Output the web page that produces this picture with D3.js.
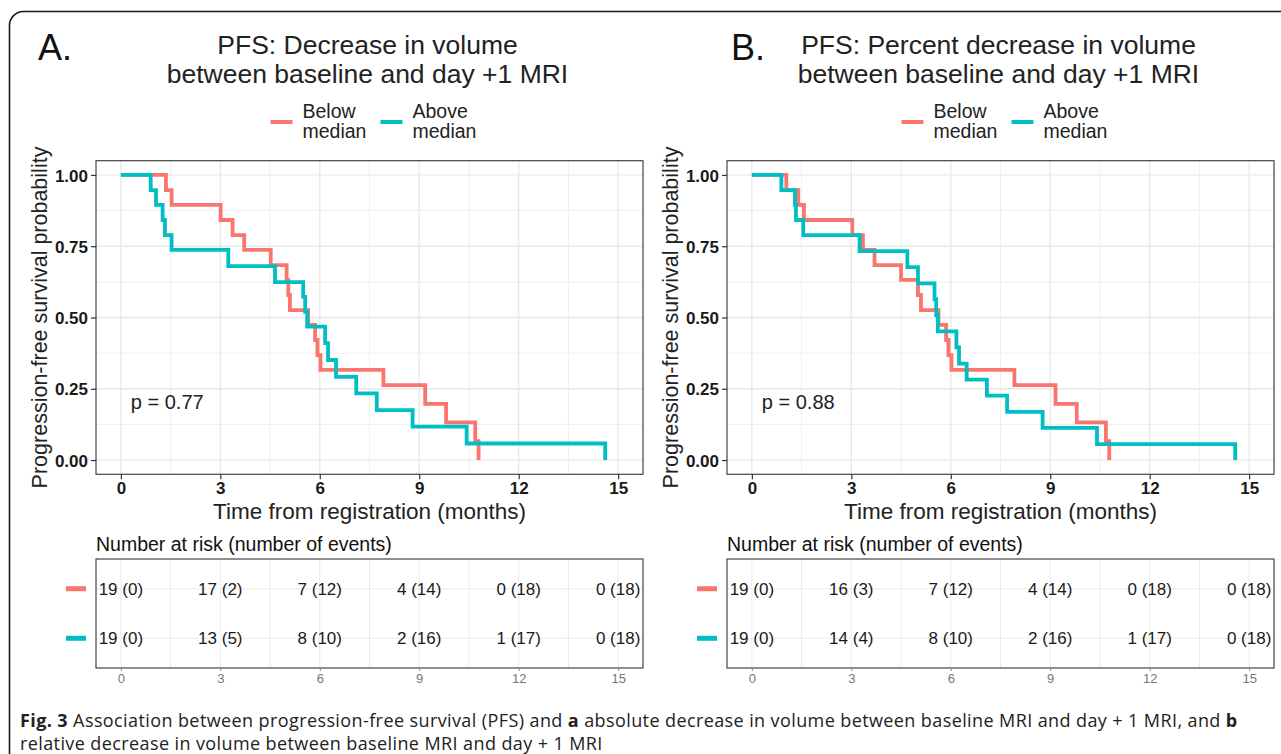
<!DOCTYPE html>
<html>
<head>
<meta charset="utf-8">
<script src="https://cdn.jsdelivr.net/npm/d3@7/dist/d3.min.js"></script>
<style>
  body { margin: 0; background: #fff; }
  svg { display: block; }
</style>
</head>
<body>
<script>
// ---- data ----
const groups = ["Below median", "Above median"];
const legendLines = [["Below", "median"], ["Above", "median"]];
const xTicks = [0, 3, 6, 9, 12, 15];
const yTicks = [0, 0.25, 0.5, 0.75, 1];

// panel A: absolute decrease
const timeA_below = [0, 1.36, 1.53, 3.01, 3.37, 3.72, 4.52, 5.0, 5.05, 5.1, 5.65, 5.86, 5.93, 6.02, 7.92, 9.18, 9.81, 10.69, 10.79];
const survA_below = [1, 0.947, 0.895, 0.842, 0.789, 0.737, 0.684, 0.632, 0.579, 0.526, 0.474, 0.421, 0.368, 0.316, 0.263, 0.197, 0.132, 0.066, 0];
const timeA_above = [0, 0.9, 1.06, 1.26, 1.33, 1.53, 3.24, 4.65, 5.5, 5.56, 5.62, 6.16, 6.25, 6.49, 7.1, 7.72, 8.8, 10.43, 14.61];
const survA_above = [1, 0.947, 0.895, 0.842, 0.789, 0.737, 0.68, 0.624, 0.572, 0.52, 0.468, 0.41, 0.351, 0.292, 0.234, 0.175, 0.117, 0.058, 0];
const riskA_below = ["19 (0)", "17 (2)", "7 (12)", "4 (14)", "0 (18)", "0 (18)"];
const riskA_above = ["19 (0)", "13 (5)", "8 (10)", "2 (16)", "1 (17)", "0 (18)"];

// panel B: percent decrease
const timeB_below = [0, 1.04, 1.4, 1.57, 3.03, 3.35, 3.7, 4.5, 5.01, 5.1, 5.63, 5.86, 5.93, 6.02, 7.92, 9.16, 9.8, 10.68, 10.78];
const survB_below = [1, 0.947, 0.895, 0.842, 0.789, 0.737, 0.684, 0.632, 0.579, 0.526, 0.474, 0.421, 0.368, 0.316, 0.263, 0.197, 0.132, 0.066, 0];
const timeB_above = [0, 0.89, 1.3, 1.33, 1.55, 3.25, 4.69, 5.01, 5.51, 5.56, 5.61, 6.17, 6.25, 6.48, 7.09, 7.7, 8.77, 10.41, 14.58];
const survB_above = [1, 0.947, 0.895, 0.842, 0.789, 0.733, 0.677, 0.62, 0.564, 0.508, 0.451, 0.395, 0.338, 0.282, 0.226, 0.169, 0.113, 0.056, 0];
const riskB_below = ["19 (0)", "16 (3)", "7 (12)", "4 (14)", "0 (18)", "0 (18)"];
const riskB_above = ["19 (0)", "14 (4)", "8 (10)", "2 (16)", "1 (17)", "0 (18)"];

const letters = ["A.", "B."];
const titlesA = ["PFS: Decrease in volume", "between baseline and day +1 MRI"];
const titlesB = ["PFS: Percent decrease in volume", "between baseline and day +1 MRI"];
const pValues = ["p = 0.77", "p = 0.88"];

const colors = ["#F8766D", "#00BFC4"];
const font = "'Liberation Sans', Arial, sans-serif";

const svg = d3.select("body").append("svg")
    .attr("width", 1281)
    .attr("height", 754);

// outer frame of the figure
svg.append("rect")
    .attr("x", 9.5).attr("y", 11.5)
    .attr("width", 1400).attr("height", 900)
    .attr("rx", 14)
    .attr("fill", "none")
    .attr("stroke", "#1a1a1a")
    .attr("stroke-width", 1.6);

const zip = (t, s) => t.map((d, i) => [d, s[i]]);

const panels = [
    { left: 96, letterX: 38, letter: letters[0], title: titlesA, p: pValues[0],
      curves: [zip(timeA_below, survA_below), zip(timeA_above, survA_above)],
      risk: [riskA_below, riskA_above] },
    { left: 727, letterX: 731, letter: letters[1], title: titlesB, p: pValues[1],
      curves: [zip(timeB_below, survB_below), zip(timeB_above, survB_above)],
      risk: [riskB_below, riskB_above] }
];

panels.forEach(drawPanel);

function drawPanel(p) {
    const pw = 547;
    const x = d3.scaleLinear().domain([-0.75, 15.75]).range([p.left, p.left + pw]);
    const y = d3.scaleLinear().domain([-0.05, 1.05]).range([474.3, 160.7]);
    const cx = p.left + pw / 2;
    const g = svg.append("g").style("font-family", font);

    // letter + title
    g.append("text").attr("x", p.letterX).attr("y", 60)
        .style("font-size", "36px").style("fill", "#111").text(p.letter);
    g.selectAll(".title").data(p.title).enter().append("text")
        .attr("x", cx - 2).attr("y", (d, i) => 54 + i * 29)
        .attr("text-anchor", "middle")
        .style("font-size", "26.5px").style("fill", "#222")
        .text(d => d);

    // legend
    const leg = g.append("g").attr("transform", "translate(" + (cx - 99) + ",0)");
    legendLines.forEach((lines, i) => {
        const lx = i * 110;
        leg.append("line").attr("x1", lx).attr("x2", lx + 22)
            .attr("y1", 122).attr("y2", 122)
            .attr("stroke", colors[i]).attr("stroke-width", 4);
        leg.selectAll(".l" + i).data(lines).enter().append("text")
            .attr("x", lx + 32).attr("y", (d, j) => 118 + j * 20)
            .style("font-size", "19.5px").style("fill", "#222")
            .text(d => d);
    });

    // grid
    const minorX = d3.range(1.5, 15, 3);
    const minorY = d3.range(0.125, 1, 0.25);
    g.selectAll(".gmx").data(minorX).enter().append("line")
        .attr("x1", d => x(d)).attr("x2", d => x(d))
        .attr("y1", y.range()[0]).attr("y2", y.range()[1])
        .attr("stroke", "#EFEFEF").attr("stroke-width", 1);
    g.selectAll(".gmy").data(minorY).enter().append("line")
        .attr("x1", x.range()[0]).attr("x2", x.range()[1])
        .attr("y1", d => y(d)).attr("y2", d => y(d))
        .attr("stroke", "#EFEFEF").attr("stroke-width", 1);
    g.selectAll(".gx").data(xTicks).enter().append("line")
        .attr("x1", d => x(d)).attr("x2", d => x(d))
        .attr("y1", y.range()[0]).attr("y2", y.range()[1])
        .attr("stroke", "#E8E8E8").attr("stroke-width", 1.3);
    g.selectAll(".gy").data(yTicks).enter().append("line")
        .attr("x1", x.range()[0]).attr("x2", x.range()[1])
        .attr("y1", d => y(d)).attr("y2", d => y(d))
        .attr("stroke", "#E8E8E8").attr("stroke-width", 1.3);

    // survival curves
    const line = d3.line().curve(d3.curveStepAfter)
        .x(d => x(d[0])).y(d => y(d[1]));
    p.curves.forEach((c, i) => {
        g.append("path").attr("d", line(c))
            .attr("fill", "none")
            .attr("stroke", colors[i])
            .attr("stroke-width", 3.8)
            .attr("stroke-linejoin", "miter");
    });

    // panel border
    g.append("rect")
        .attr("x", x.range()[0]).attr("y", y.range()[1])
        .attr("width", pw).attr("height", y.range()[0] - y.range()[1])
        .attr("fill", "none").attr("stroke", "#444").attr("stroke-width", 1.2);

    // axes
    const ax = g.append("g").attr("transform", "translate(0," + y.range()[0] + ")")
        .call(d3.axisBottom(x).tickValues(xTicks).tickSize(5).tickPadding(3));
    const ay = g.append("g").attr("transform", "translate(" + x.range()[0] + ",0)")
        .call(d3.axisLeft(y).tickValues(yTicks).tickFormat(d3.format(".2f")).tickSize(5).tickPadding(3));
    [ax, ay].forEach(a => {
        a.select(".domain").remove();
        a.selectAll(".tick line").attr("stroke", "#333").attr("stroke-width", 1.2);
        a.selectAll("text").style("font-family", font).style("font-size", "17px")
            .style("font-weight", "bold").style("fill", "#1a1a1a");
    });
    ay.selectAll("text").attr("dy", "0.36em");

    g.append("text")
        .attr("transform", "translate(" + (p.left - 49) + "," + ((y.range()[0] + y.range()[1]) / 2) + ") rotate(-90)")
        .attr("text-anchor", "middle")
        .style("font-size", "21.5px").style("fill", "#222")
        .text("Progression-free survival probability");
    g.append("text")
        .attr("x", x(7.5)).attr("y", 519)
        .attr("text-anchor", "middle")
        .style("font-size", "22.5px").style("fill", "#222")
        .text("Time from registration (months)");

    g.append("text").attr("x", x(0.3)).attr("y", y(0.18))
        .style("font-size", "20px").style("fill", "#222").text(p.p);

    // ---- risk table ----
    const ty = d3.scaleLinear().domain([0.4, 2.6]).range([668, 559]);
    const rows = [2, 1];
    g.append("text").attr("x", p.left).attr("y", 551)
        .style("font-size", "19.5px").style("fill", "#111")
        .text("Number at risk (number of events)");
    g.selectAll(".tgx").data(d3.range(0, 15.1, 1.5)).enter().append("line")
        .attr("x1", d => x(d)).attr("x2", d => x(d))
        .attr("y1", ty.range()[0]).attr("y2", ty.range()[1])
        .attr("stroke", "#EBEBEB").attr("stroke-width", 1);
    g.selectAll(".tgy").data(rows).enter().append("line")
        .attr("x1", x.range()[0]).attr("x2", x.range()[1])
        .attr("y1", d => ty(d)).attr("y2", d => ty(d))
        .attr("stroke", "#EBEBEB").attr("stroke-width", 1.2);
    g.append("rect")
        .attr("x", x.range()[0]).attr("y", ty.range()[1])
        .attr("width", pw).attr("height", ty.range()[0] - ty.range()[1])
        .attr("fill", "none").attr("stroke", "#444").attr("stroke-width", 1.2);

    p.risk.forEach((r, i) => {
        g.selectAll(".risk" + i).data(r).enter().append("text")
            .attr("x", (d, j) => x(xTicks[j]))
            .attr("y", ty(rows[i]))
            .attr("dy", "0.36em")
            .attr("text-anchor", "middle")
            .style("font-size", "17px").style("fill", "#1a1a1a")
            .text(d => d);
        g.append("rect")
            .attr("x", p.left - 30).attr("y", ty(rows[i]) - 2.5)
            .attr("width", 20).attr("height", 5)
            .attr("fill", colors[i]);
    });

    const tax = g.append("g").attr("transform", "translate(0," + ty.range()[0] + ")")
        .call(d3.axisBottom(x).tickValues(xTicks).tickSize(3).tickPadding(3));
    tax.select(".domain").remove();
    tax.selectAll(".tick line").attr("stroke", "#888");
    tax.selectAll("text").style("font-family", font).style("font-size", "13px").style("fill", "#777");
}

// ---- caption ----
const caption1 = [
    ["Fig. 3", true], [" Association between progression-free survival (PFS) and ", false], ["a", true],
    [" absolute decrease in volume between baseline MRI and day + 1 MRI, and ", false], ["b", true]
];
const caption2 = "relative decrease in volume between baseline MRI and day + 1 MRI";

const cap = svg.append("text").attr("x", 20).attr("y", 727)
    .style("font-family", "'Open Sans', 'Noto Sans', sans-serif")
    .style("font-size", "18px").style("letter-spacing", "0.4px").style("fill", "#222");
cap.selectAll("tspan").data(caption1).enter().append("tspan")
    .style("font-weight", d => d[1] ? "bold" : "normal")
    .text(d => d[0]);
svg.append("text").attr("x", 20).attr("y", 750)
    .style("font-family", "'Open Sans', 'Noto Sans', sans-serif")
    .style("font-size", "18px").style("letter-spacing", "0.4px").style("fill", "#222")
    .text(caption2);
</script>
</body>
</html>
